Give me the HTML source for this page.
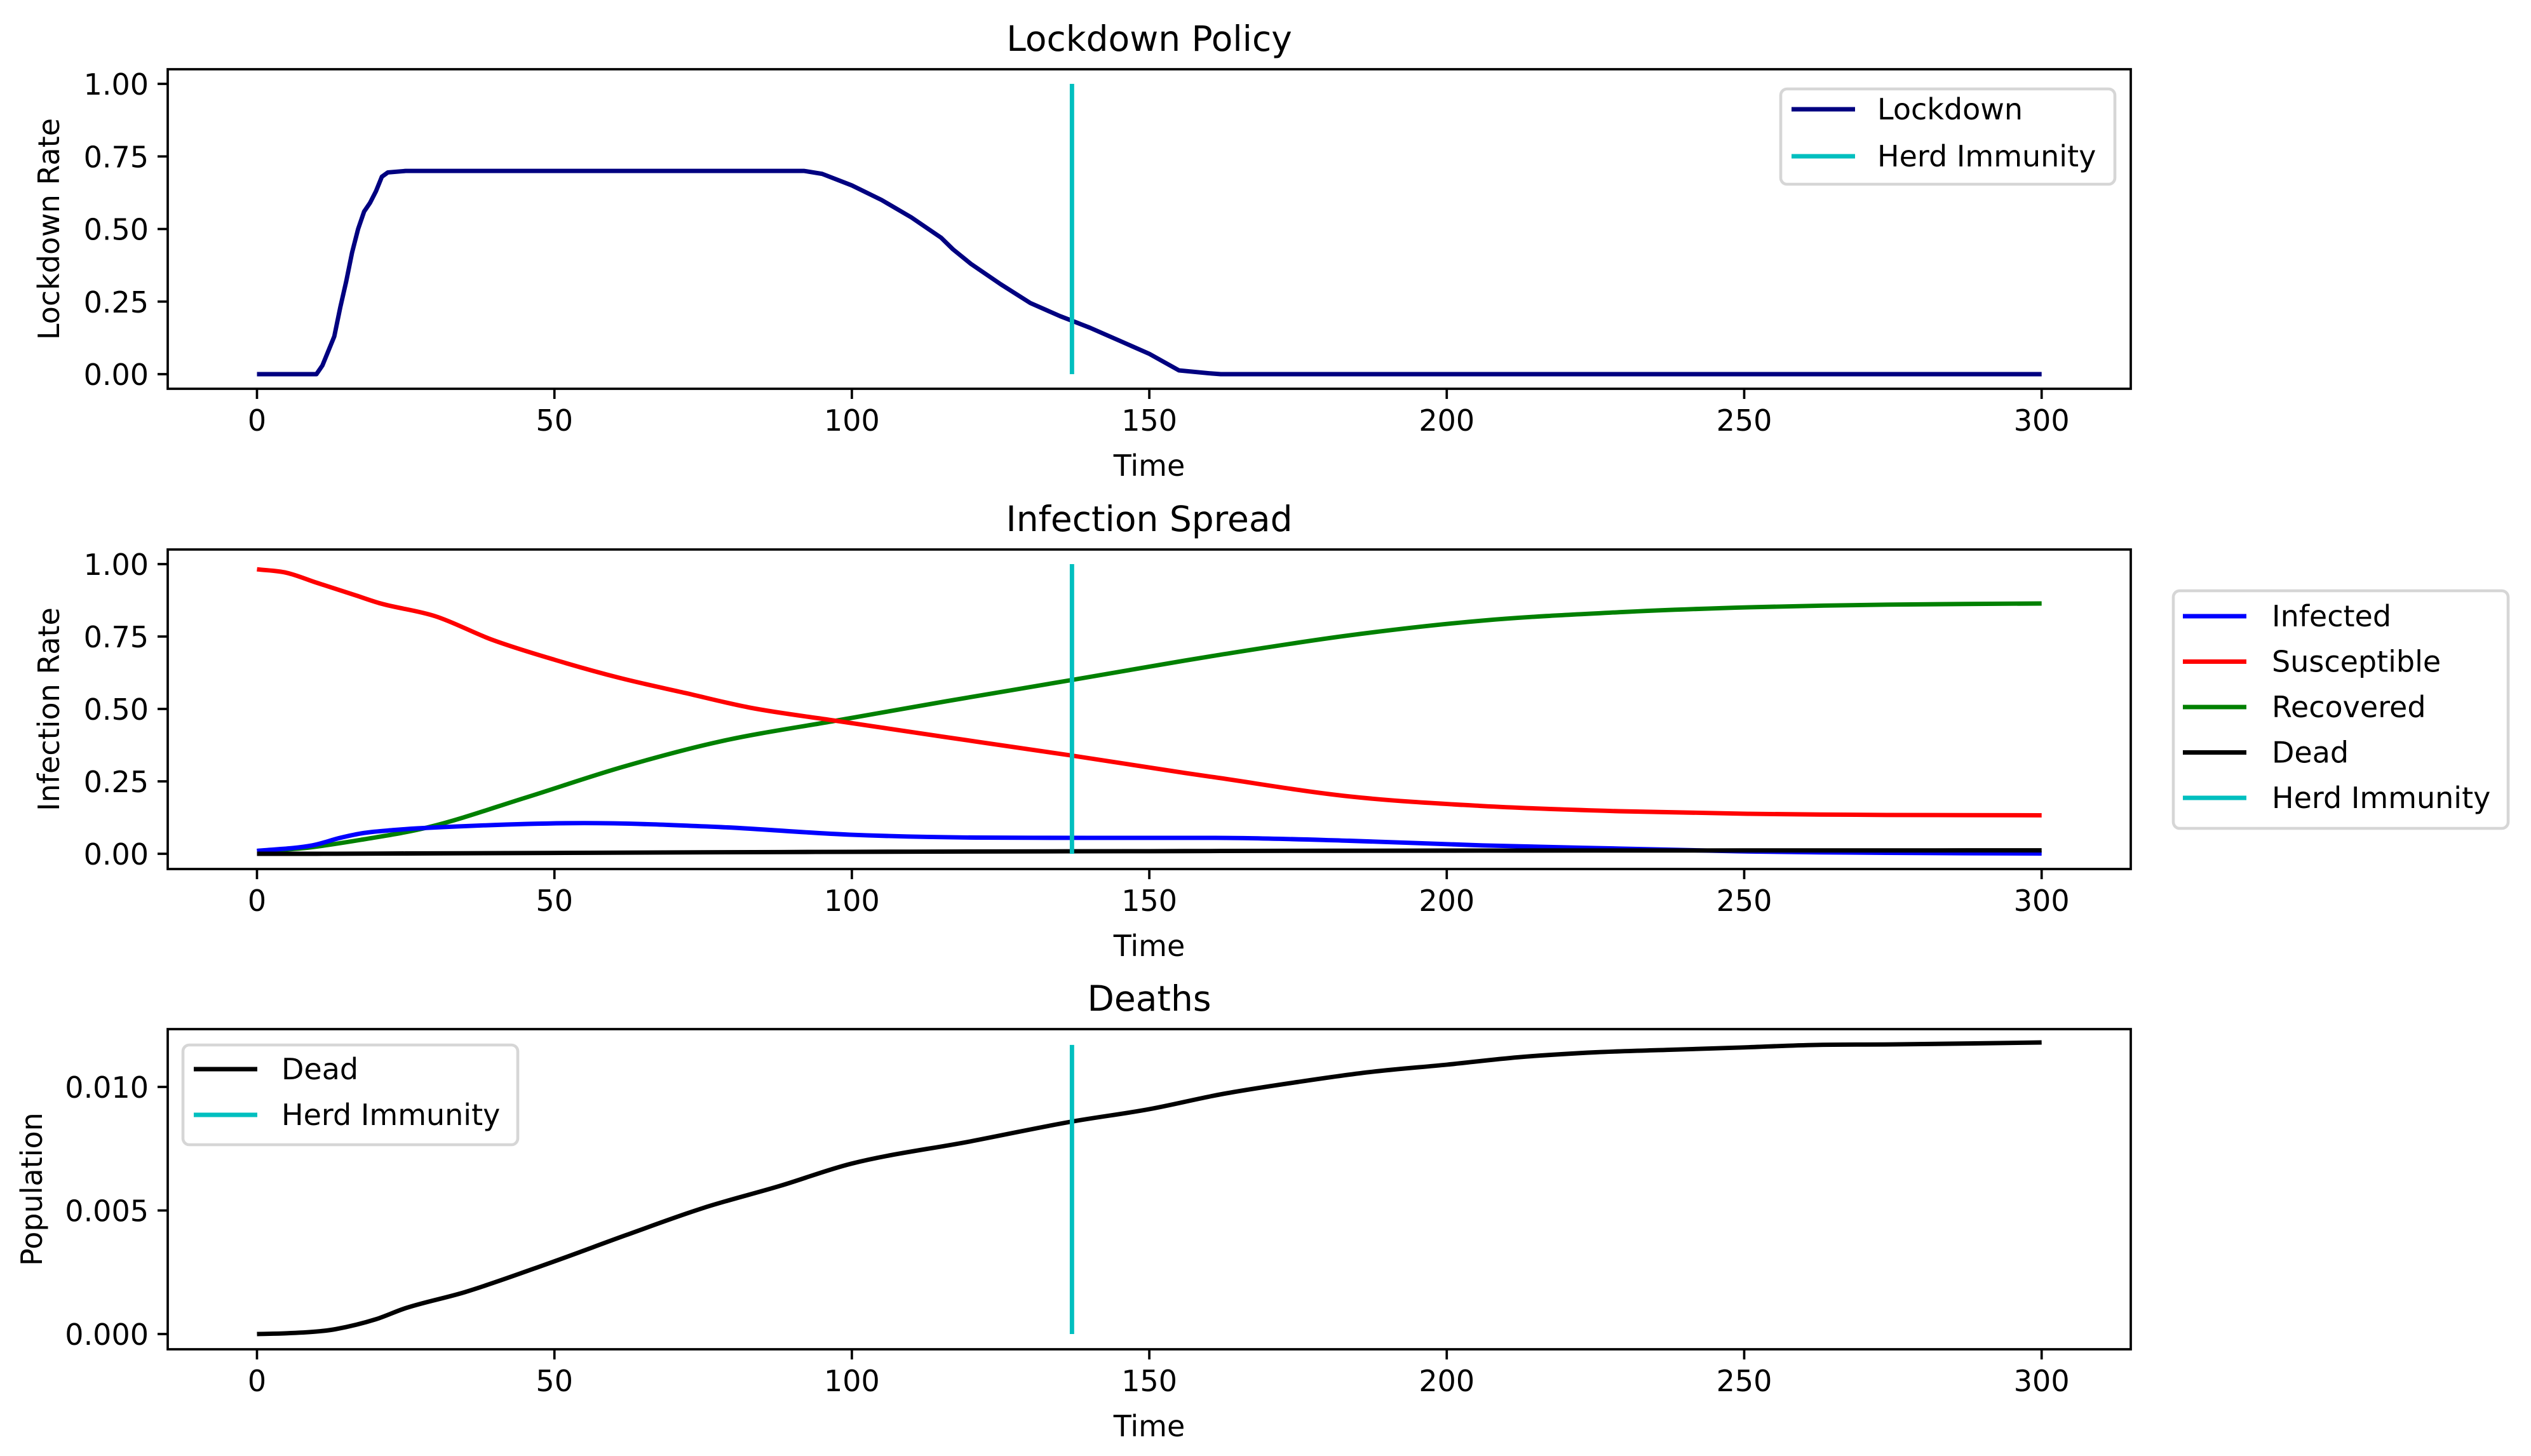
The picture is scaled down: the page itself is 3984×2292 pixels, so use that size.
<!DOCTYPE html>
<html><head><meta charset="utf-8">
<style>
html,body{margin:0;padding:0;background:#fff;}
svg{display:block;font-family:"DejaVu Sans","Liberation Sans",sans-serif;}
</style></head>
<body>
<svg id="fig" width="3984" height="2292" viewBox="0 0 3984 2292" xmlns="http://www.w3.org/2000/svg"></svg>
<script>
// ---- data ----
const xTicks = [0, 50, 100, 150, 200, 250, 300];
const herdTime = 137;
const lockT = [0,10,11,13,14,15,16,17,18,19,20,21,22,25,92,95,100,105,110,115,117,120,125,130,135,137,140,145,150,155,160,162,300];
const lockV = [0,0,0.03,0.13,0.23,0.32,0.42,0.5,0.56,0.59,0.63,0.68,0.695,0.7,0.7,0.69,0.65,0.6,0.54,0.47,0.43,0.38,0.31,0.245,0.2,0.184,0.16,0.115,0.07,0.013,0.003,0,0];
const lockTicks = [0, 0.25, 0.5, 0.75, 1.0];
const lockTickLabels = ["0.00","0.25","0.50","0.75","1.00"];
const susT = [0,5,10,16.6,20.8,30,39.5,50,61,72,83,97,115,136.7,156,161,183.6,206,229,251,274,300];
const susV = [0.982,0.97,0.936,0.892,0.864,0.82,0.739,0.67,0.607,0.555,0.504,0.46,0.405,0.34,0.279,0.264,0.198,0.165,0.147,0.138,0.134,0.133];
const recT = [0,8,18,28.9,45.2,61.5,77.9,97.5,116,137,156,161,183.6,206,229,251,274,300];
const recV = [0.01,0.02,0.05,0.092,0.194,0.30,0.388,0.46,0.527,0.60,0.667,0.684,0.754,0.805,0.834,0.851,0.86,0.864];
const infT = [0,9.3,14,18,23,29,55,78,99.6,121,140,156,161,183.6,206,229,251,274,300];
const infV = [0.01,0.029,0.055,0.072,0.082,0.09,0.106,0.092,0.066,0.056,0.055,0.055,0.055,0.045,0.029,0.018,0.008,0.003,0.001];
const deadT = [0,5,10,13.3,20,25,35,49.5,62,75,88,100,120,137,150,162,175,187,200,212,225,237,250,262,275,300];
const deadV = [0,0.00003,0.0001,0.0002,0.0006,0.00105,0.0017,0.0029,0.004,0.0051,0.006,0.0069,0.0078,0.0086,0.0091,0.0097,0.0102,0.0106,0.0109,0.0112,0.0114,0.0115,0.0116,0.0117,0.01172,0.0118];
const infTicks = [0, 0.25, 0.5, 0.75, 1.0];
const infTickLabels = ["0.00","0.25","0.50","0.75","1.00"];
const deadTicks = [0, 0.005, 0.010];
const deadTickLabels = ["0.000","0.005","0.010"];

// ---- helpers ----
const NS = "http://www.w3.org/2000/svg";
const svg = document.getElementById('fig');
function mk(tag, attrs, parent){ const e=document.createElementNS(NS,tag); for(const k in attrs) e.setAttribute(k,attrs[k]); (parent||svg).appendChild(e); return e; }
const X0 = 404.5, XS = 9.364, AL = 264, AR = 3354;
const sx = t => X0 + t*XS;

// monotone cubic path through screen points
function smoothPath(px, py){
  const n = px.length;
  if(n<3) return px.map((x,i)=>(i?'L':'M')+x+' '+py[i]).join(' ');
  const d=[], m=new Array(n);
  for(let i=0;i<n-1;i++) d.push((py[i+1]-py[i])/(px[i+1]-px[i]));
  m[0]=d[0]; m[n-1]=d[n-2];
  for(let i=1;i<n-1;i++) m[i] = (d[i-1]*d[i]<=0)?0:(d[i-1]+d[i])/2;
  for(let i=0;i<n-1;i++){
    if(d[i]===0){m[i]=0;m[i+1]=0;continue;}
    const a=m[i]/d[i], b=m[i+1]/d[i], s=a*a+b*b;
    if(s>9){const tt=3/Math.sqrt(s); m[i]=tt*a*d[i]; m[i+1]=tt*b*d[i];}
  }
  let p='M'+px[0].toFixed(1)+' '+py[0].toFixed(1);
  for(let i=0;i<n-1;i++){
    const h=(px[i+1]-px[i])/3;
    p+=' C'+(px[i]+h).toFixed(1)+' '+(py[i]+m[i]*h).toFixed(1)+' '+(px[i+1]-h).toFixed(1)+' '+(py[i+1]-m[i+1]*h).toFixed(1)+' '+px[i+1].toFixed(1)+' '+py[i+1].toFixed(1);
  }
  return p;
}

function panel(cfg){
  const g = mk('g',{});
  
  
  const sy = v => cfg.y0 - v*cfg.ys;
  cfg.series.forEach(s=>{
    let d;
    if(s.smooth) d = smoothPath(s.t.map(sx), s.v.map(sy));
    else d = s.t.map((t,i)=>(i?'L':'M')+sx(t).toFixed(1)+' '+sy(s.v[i]).toFixed(1)).join(' ');
    const p = mk('path',{d:d,fill:'none',stroke:s.color,'stroke-width':6.9,'stroke-linejoin':'round'},g);
    
    
  });
  const hl = mk('line',{x1:sx(herdTime),x2:sx(herdTime),y1:sy(0),y2:sy(cfg.herdTop),stroke:'#00bfbf','stroke-width':6.9},g);
  
  
  const fr = mk('rect',{x:AL,y:cfg.top,width:AR-AL,height:cfg.bot-cfg.top,fill:'none',stroke:'#000','stroke-width':3.7},g);
  
  
  xTicks.forEach(t=>{
    mk('line',{x1:sx(t),x2:sx(t),y1:cfg.bot,y2:cfg.bot+16,stroke:'#000','stroke-width':3.7},g);
    const tx = mk('text',{x:sx(t),y:cfg.bot+66,'font-size':46,'text-anchor':'middle'},g);
    tx.textContent = t;
    
    
  });
  cfg.yt.forEach((v,i)=>{
    mk('line',{x1:AL-16,x2:AL,y1:sy(v),y2:sy(v),stroke:'#000','stroke-width':3.7},g);
    const tx = mk('text',{x:AL-30,y:sy(v)+17,'font-size':46,'text-anchor':'end'},g);
    tx.textContent = cfg.ytl[i];
    
    
  });
  const xl = mk('text',{x:(AL+AR)/2,y:cfg.bot+137,'font-size':46,'text-anchor':'middle'},g);
  xl.textContent = 'Time';
  
  
  const cy = (cfg.top+cfg.bot)/2;
  const yl = mk('text',{x:cfg.ylx,y:cy,'font-size':46,'text-anchor':'middle',transform:`rotate(-90 ${cfg.ylx} ${cy})`},g);
  yl.textContent = cfg.ylabel;
  
  
  const ti = mk('text',{x:(AL+AR)/2,y:cfg.top-29,'font-size':55,'text-anchor':'middle'},g);
  ti.textContent = cfg.title;
  
  
  const L = cfg.legend;
  const lg = mk('g',{},g);
  
  
  mk('rect',{x:L.x,y:L.y,width:L.w,height:L.h,rx:10,fill:'#fff','fill-opacity':0.8,stroke:'#d6d6d6','stroke-width':4.6},lg);
  L.items.forEach((it,i)=>{
    const yy = L.fy + i*L.dy;
    mk('line',{x1:L.hx,x2:L.hx+100,y1:yy,y2:yy,stroke:it[1],'stroke-width':6.9},lg);
    const tx = mk('text',{x:L.tx,y:yy+16,'font-size':46},lg);
    tx.textContent = it[0];
    
    
  });
}

panel({name:'lockdown-panel',title:'Lockdown Policy',ylabel:'Lockdown Rate',ylx:93,top:109,bot:612,y0:589,ys:457,herdTop:1,
  yt:lockTicks,ytl:lockTickLabels,
  series:[{id:'lockdown-line',t:lockT,v:lockV,color:'#000080',smooth:false}],
  legend:{x:2803,y:140,w:526,h:150,fy:172,dy:74,hx:2820,tx:2955,items:[['Lockdown','#000080'],['Herd Immunity','#00bfbf']]}});

panel({name:'infection-panel',title:'Infection Spread',ylabel:'Infection Rate',ylx:93,top:865,bot:1368,y0:1344,ys:456,herdTop:1,
  yt:infTicks,ytl:infTickLabels,
  series:[{id:'recovered-line',t:recT,v:recV,color:'#008000',smooth:true},{id:'susceptible-line',t:susT,v:susV,color:'#ff0000',smooth:true},{id:'infected-line',t:infT,v:infV,color:'#0000ff',smooth:true},{id:'dead-line',t:deadT,v:deadV,color:'#000000',smooth:true}],
  legend:{x:3421,y:930,w:527,h:374,fy:970,dy:71.5,hx:3436,tx:3576,items:[['Infected','#0000ff'],['Susceptible','#ff0000'],['Recovered','#008000'],['Dead','#000000'],['Herd Immunity','#00bfbf']]}});

panel({name:'deaths-panel',title:'Deaths',ylabel:'Population',ylx:66,top:1620,bot:2124,y0:2100,ys:38900,herdTop:0.0117,
  yt:deadTicks,ytl:deadTickLabels,
  series:[{id:'deaths-line',t:deadT,v:deadV,color:'#000000',smooth:true}],
  legend:{x:288,y:1645,w:527,h:157,fy:1683,dy:72,hx:305,tx:443,items:[['Dead','#000000'],['Herd Immunity','#00bfbf']]}});
</script>
</body></html>
